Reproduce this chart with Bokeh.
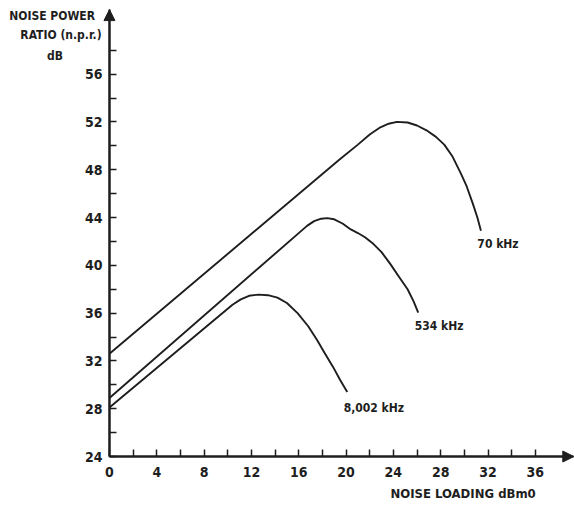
from bokeh.plotting import figure
from bokeh.models import FixedTicker, Label, Arrow, NormalHead, Range1d
from bokeh.embed import file_html
from bokeh.resources import INLINE

# ---- data ----
x_major = [0, 4, 8, 12, 16, 20, 24, 28, 32, 36]
x_minor = [2, 6, 10, 14, 18, 22, 26, 30, 34]
y_major = [24, 28, 32, 36, 40, 44, 48, 52, 56]
y_minor = [26, 30, 34, 38, 42, 46, 50, 54, 58]

x_70 = [0, 19.5, 21.0, 22.0, 22.9, 23.6, 24.3, 25.2, 26.0, 26.8, 27.6, 28.3, 29.0, 29.7, 30.2, 30.7, 31.1, 31.4]
y_70 = [32.6, 48.9, 50.1, 50.95, 51.55, 51.85, 52.0, 51.95, 51.7, 51.3, 50.75, 50.1, 49.1, 47.7, 46.6, 45.2, 44.0, 42.9]

x_534 = [0, 16.7, 17.3, 17.9, 18.4, 19.0, 19.7, 20.4, 21.0, 21.6, 22.3, 23.0, 23.75, 24.5, 25.2, 25.7, 26.1]
y_534 = [28.9, 43.3, 43.7, 43.9, 43.95, 43.85, 43.5, 43.0, 42.7, 42.35, 41.8, 41.1, 40.1, 39.0, 38.0, 37.0, 36.05]

x_8002 = [0, 10.4, 11.1, 11.8, 12.6, 13.4, 14.2, 15.0, 15.9, 16.8, 17.55, 18.2, 18.9, 19.5, 20.1]
y_8002 = [28.1, 36.7, 37.15, 37.45, 37.55, 37.5, 37.3, 36.85, 36.0, 34.9, 33.75, 32.65, 31.5, 30.4, 29.4]

series_labels = ["70 kHz", "534 kHz", "8,002 kHz"]
x_title = "NOISE LOADING dBm0"
y_title = ["NOISE POWER", "RATIO (n.p.r.)", "dB"]

INK = "#1e1e1e"
FONT = "DejaVu Sans Condensed"

X_START, X_END = -9.21, 39.31
Y_START, Y_END = 19.65, 62.16
X_AXIS_END = 39.25
Y_AXIS_END = 61.4

p = figure(width=574, height=508, output_backend="svg", toolbar_location=None,
           x_range=Range1d(X_START, X_END), y_range=Range1d(Y_START, Y_END),
           min_border=0, outline_line_color=None,
           background_fill_color="white", border_fill_color="white")
p.grid.visible = False

p.xaxis[0].fixed_location = 24
p.yaxis[0].fixed_location = 0
p.xaxis[0].bounds = (0, X_AXIS_END)
p.yaxis[0].bounds = (24, Y_AXIS_END)

for ax, maj, mnr in ((p.xaxis[0], x_major, x_minor), (p.yaxis[0], y_major, y_minor)):
    ax.ticker = FixedTicker(ticks=maj, minor_ticks=mnr)
    ax.axis_line_width = 2
    ax.axis_line_color = INK
    ax.major_tick_in = 7
    ax.major_tick_out = 0
    ax.minor_tick_in = 7
    ax.minor_tick_out = 0
    ax.major_tick_line_width = 1.5
    ax.minor_tick_line_width = 1.5
    ax.major_tick_line_color = INK
    ax.minor_tick_line_color = INK
    ax.major_label_text_font = FONT
    ax.major_label_text_font_style = "bold"
    ax.major_label_text_font_size = "14px"
    ax.major_label_text_color = INK

p.xaxis.major_label_standoff = 10
p.yaxis.major_label_standoff = 7

for xs, ys in ((x_70, y_70), (x_534, y_534), (x_8002, y_8002)):
    p.line(xs, ys, line_width=1.9, line_color=INK, line_join="round")

# axis arrows
p.add_layout(Arrow(end=NormalHead(size=11, fill_color=INK, line_color=INK),
                   x_start=0, y_start=24, x_end=0, y_end=Y_AXIS_END,
                   line_width=2, line_color=INK))
p.add_layout(Arrow(end=NormalHead(size=11, fill_color=INK, line_color=INK),
                   x_start=0, y_start=24, x_end=X_AXIS_END, y_end=24,
                   line_width=2, line_color=INK))

def lab(x, y, t, align="left", size="12px"):
    p.add_layout(Label(x=x, y=y, text=t, text_align=align, text_baseline="middle",
                       text_font=FONT, text_font_style="bold",
                       text_font_size=size, text_color=INK))

# curve labels
lab(31.1, 41.75, series_labels[0])
lab(25.8, 34.96, series_labels[1])
lab(19.8, 28.1, series_labels[2])

# axis titles
lab(23.75, 20.9, x_title, size="13px")
lab(-4.85, 60.9, y_title[0], align="center")
lab(-4.1, 59.3, y_title[1], align="center")
lab(-4.6, 57.55, y_title[2], align="center")

open("out.html", "w").write(file_html(p, INLINE))
